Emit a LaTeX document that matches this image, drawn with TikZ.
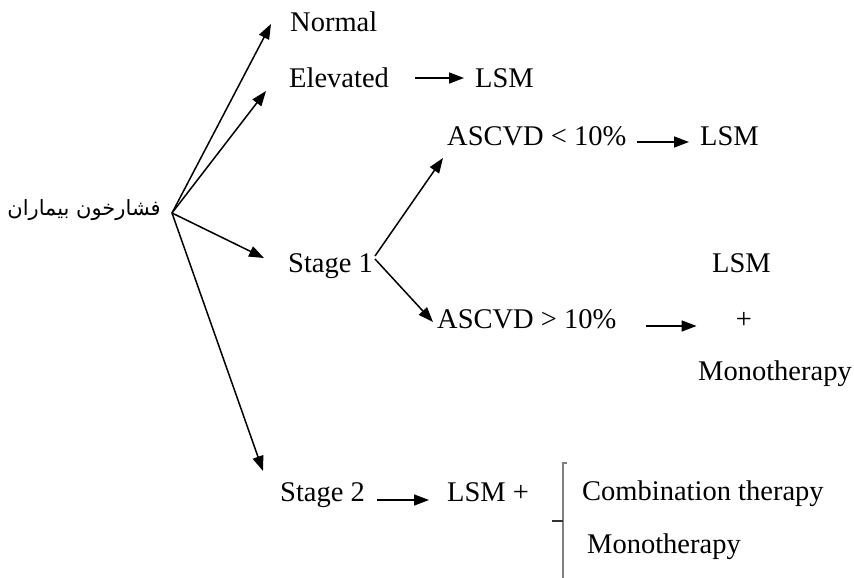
\documentclass[tikz,border=0pt]{standalone}
\usepackage{fontspec}
\setmainfont{Liberation Serif}
\newfontfamily\arabicfont[Script=Arabic]{DejaVu Sans}
\TeXXeTstate=1
\usetikzlibrary{arrows.meta,calc}
\begin{document}
\begin{tikzpicture}[x=1pt,y=-1pt,
  lbl/.style={inner sep=0pt,anchor=base west,font=\fontsize{28.5}{34}\selectfont},
  arr/.style={line width=1.5pt,-{Triangle[length=15pt,width=11pt]}},
  ln/.style={line width=1.5pt}]
\useasboundingbox (0,0) rectangle (854,578);
% root
\node[inner sep=0pt,anchor=east,font=\fontsize{21}{26}\selectfont\arabicfont] (root) at (161,210) {\beginR فشارخون بیماران\endR};
\coordinate (r) at (172,213);
% first level
\node[lbl] (normal) at (290,32) {Normal};
\node[lbl] (elev) at (289,88) {Elevated};
\node[lbl] (lsmA) at (475,88) {LSM};
\node[lbl] (st1) at (288,272) {Stage 1};
\node[lbl] (st2) at (280,501) {Stage 2};
\coordinate (tN) at (271,24);
\coordinate (tE) at (266,91);
\coordinate (tS1) at (264,258);
\coordinate (tS2) at (263,471);
\draw[arr] (r) -- (tN);
\draw[arr] (r) -- (tE);
\draw[arr] (r) -- (tS1);
\draw[arr] (r) -- (tS2);
\draw[arr] ($(elev.base east)+(26,-10)$) -- ($(lsmA.base west)+(-11,-10)$);
% stage 1 branches
\node[lbl] (asc1) at (447,145) {ASCVD < 10\%};
\node[lbl] (lsmB) at (700,145) {LSM};
\node[lbl] (asc2) at (437,328) {ASCVD > 10\%};
\coordinate (b1) at (375,256);
\coordinate (b2) at (375,259);
\coordinate (tU) at (443,158);
\coordinate (tL) at (433,322);
\draw[arr] (b1) -- (tU);
\draw[arr] (b2) -- (tL);
\draw[arr] ($(asc1.base east)+(10,-3)$) -- ($(lsmB.base west)+(-11,-3)$);
\node[lbl] (lsmC) at (712,272) {LSM};
\node[inner sep=0pt,font=\fontsize{28.5}{34}\selectfont] (plus) at (744,320) {+};
\node[lbl] (mono1) at (698,380) {Monotherapy};
\draw[arr] ($(asc2.base east)+(29,-2)$) -- ++(51,0);
% stage 2
\node[lbl] (lsmD) at (447,501) {LSM +};
\draw[arr] ($(st2.base east)+(12,-1)$) -- ($(lsmD.base west)+(-18,-1)$);
\coordinate (brT) at (563,463);
\coordinate (brB) at (563,578);
\coordinate (brM) at (563,521);
\draw[line width=1.6pt,gray] (567,463) -- (brT) -- (brB);
\draw[line width=1.5pt,black!80] (552,521) -- (brM);
\node[lbl] (comb) at (582,500) {Combination therapy};
\node[lbl] (mono2) at (587,553) {Monotherapy};
\end{tikzpicture}
\end{document}
